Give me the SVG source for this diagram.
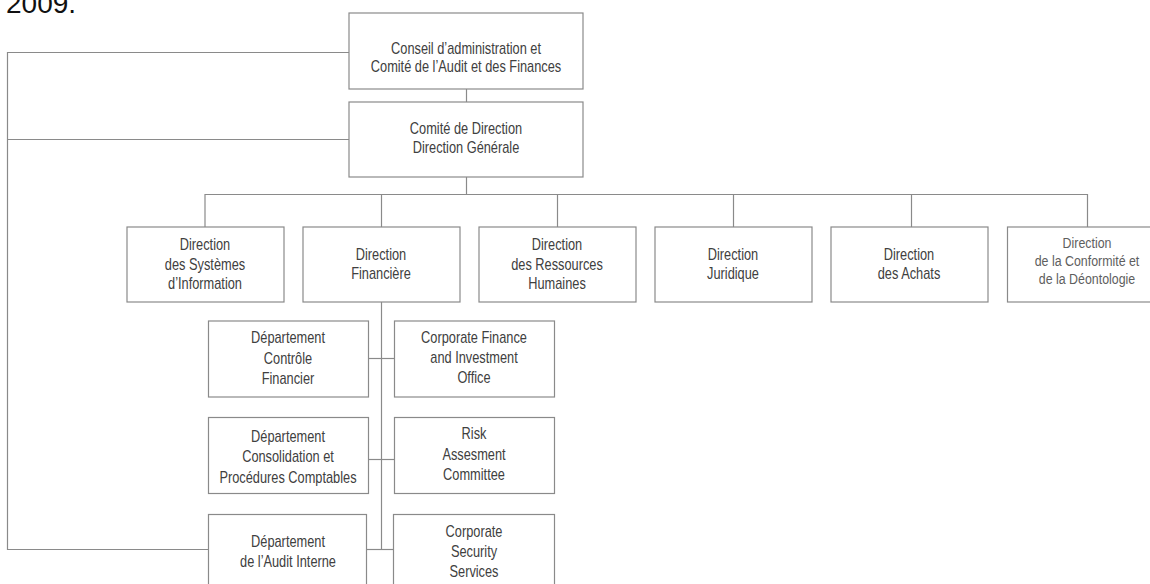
<svg xmlns="http://www.w3.org/2000/svg" width="1150" height="584" viewBox="0 0 1150 584">
<style>
.bg{fill:#ffffff}
.box{fill:#ffffff;stroke:#8a8a8a;stroke-width:1.2}
.ln{fill:none;stroke:#8a8a8a;stroke-width:1.2}
text{font-family:"Liberation Sans Narrow","Liberation Sans",Arial,sans-serif;font-size:16px;fill:#404040;text-anchor:middle}
.light{fill:#5e5e5e;font-size:15.5px}
.title{font-family:"Liberation Sans",Arial,sans-serif;font-size:28px;fill:#111;text-anchor:start}
</style>
<rect class="bg" x="0" y="0" width="1150" height="584"/>
<text class="title" x="6" y="13">2009.</text>
<g id="connectors">
<path class="ln" d="M466.5 89 V102"/>
<path class="ln" d="M349 52.5 H7.5 V549.5 H208"/>
<path class="ln" d="M349 139.5 H7.5"/>
<path class="ln" d="M466.5 177 V194.5"/>
<path class="ln" d="M205 227 V194.5 H1087.5 V227"/>
<path class="ln" d="M381.5 194.5 V227"/>
<path class="ln" d="M557.5 194.5 V227"/>
<path class="ln" d="M733.5 194.5 V227"/>
<path class="ln" d="M911.5 194.5 V227"/>
<path class="ln" d="M381.5 302 V549.5"/>
<path class="ln" d="M368 358.5 H394"/>
<path class="ln" d="M368 459.5 H394"/>
<path class="ln" d="M366 549.5 H393"/>
</g>
<g id="conseil">
<rect class="box" x="349" y="13" width="234" height="76"/>
<g transform="translate(466 0) scale(0.8 1)">
<text x="0" y="54">Conseil d’administration et</text>
<text x="0" y="72">Comité de l’Audit et des Finances</text>
</g>
</g>
<g id="comite">
<rect class="box" x="349" y="102" width="234" height="75"/>
<g transform="translate(466 0) scale(0.8 1)">
<text x="0" y="134">Comité de Direction</text>
<text x="0" y="153">Direction Générale</text>
</g>
</g>
<g id="dsi">
<rect class="box" x="127" y="227" width="157" height="75"/>
<g transform="translate(205 0) scale(0.8 1)">
<text x="0" y="250">Direction</text>
<text x="0" y="270">des Systèmes</text>
<text x="0" y="289">d’Information</text>
</g>
</g>
<g id="dfin">
<rect class="box" x="303" y="227" width="157" height="75"/>
<g transform="translate(381 0) scale(0.8 1)">
<text x="0" y="260">Direction</text>
<text x="0" y="279">Financière</text>
</g>
</g>
<g id="drh">
<rect class="box" x="479" y="227" width="157" height="75"/>
<g transform="translate(557 0) scale(0.8 1)">
<text x="0" y="250">Direction</text>
<text x="0" y="270">des Ressources</text>
<text x="0" y="289">Humaines</text>
</g>
</g>
<g id="djur">
<rect class="box" x="655" y="227" width="157" height="75"/>
<g transform="translate(733 0) scale(0.8 1)">
<text x="0" y="260">Direction</text>
<text x="0" y="279">Juridique</text>
</g>
</g>
<g id="dachats">
<rect class="box" x="831" y="227" width="157" height="75"/>
<g transform="translate(909 0) scale(0.8 1)">
<text x="0" y="260">Direction</text>
<text x="0" y="279">des Achats</text>
</g>
</g>
<g id="dconf">
<rect class="box" x="1007.5" y="227" width="160" height="75"/>
<g transform="translate(1087 0) scale(0.8 1)">
<text class="light" x="0" y="248">Direction</text>
<text class="light" x="0" y="266">de la Conformité et</text>
<text class="light" x="0" y="284">de la Déontologie</text>
</g>
</g>
<g id="controle">
<rect class="box" x="208.5" y="321" width="160" height="76"/>
<g transform="translate(288 0) scale(0.8 1)">
<text x="0" y="343">Département</text>
<text x="0" y="364">Contrôle</text>
<text x="0" y="384">Financier</text>
</g>
</g>
<g id="cfio">
<rect class="box" x="394.5" y="321" width="160" height="76"/>
<g transform="translate(474 0) scale(0.8 1)">
<text x="0" y="343">Corporate Finance</text>
<text x="0" y="363">and Investment</text>
<text x="0" y="383">Office</text>
</g>
</g>
<g id="consolidation">
<rect class="box" x="208.5" y="417.5" width="160" height="76"/>
<g transform="translate(288 0) scale(0.8 1)">
<text x="0" y="442">Département</text>
<text x="0" y="462">Consolidation et</text>
<text x="0" y="483">Procédures Comptables</text>
</g>
</g>
<g id="risk">
<rect class="box" x="394.5" y="417.5" width="160" height="76"/>
<g transform="translate(474 0) scale(0.8 1)">
<text x="0" y="439">Risk</text>
<text x="0" y="460">Assesment</text>
<text x="0" y="480">Committee</text>
</g>
</g>
<g id="audit">
<rect class="box" x="208.5" y="514.5" width="158" height="80"/>
<g transform="translate(288 0) scale(0.8 1)">
<text x="0" y="547">Département</text>
<text x="0" y="567">de l’Audit Interne</text>
</g>
</g>
<g id="security">
<rect class="box" x="393.5" y="514.5" width="161" height="80"/>
<g transform="translate(474 0) scale(0.8 1)">
<text x="0" y="537">Corporate</text>
<text x="0" y="557">Security</text>
<text x="0" y="577">Services</text>
</g>
</g>
</svg>
